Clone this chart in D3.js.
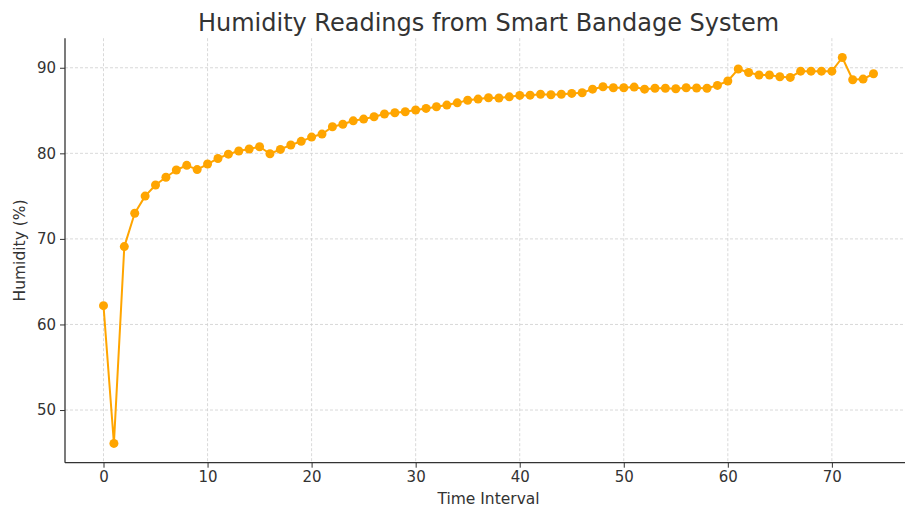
<!DOCTYPE html>
<html>
<head>
<meta charset="utf-8">
<script src="https://cdn.jsdelivr.net/npm/d3@7/dist/d3.min.js"></script>
<style>
  html, body { margin: 0; padding: 0; background: #fff; }
  svg { display: block; font-family: "DejaVu Sans", sans-serif; }
</style>
</head>
<body>
<svg id="chart" width="905" height="510"></svg>
<script>
// Humidity readings per time interval (0..74)
const timeIntervals = d3.range(0, 75);
const humidity = [
  62.2, 46.1, 69.1, 73.0, 75.0, 76.3, 77.2, 78.05, 78.6, 78.1,
  78.75, 79.4, 79.9, 80.27, 80.5, 80.77, 79.95, 80.46, 80.97, 81.4,
  81.9, 82.25, 83.1, 83.4, 83.8, 84.0, 84.27, 84.6, 84.74, 84.86,
  85.06, 85.25, 85.44, 85.64, 85.9, 86.2, 86.34, 86.5, 86.46, 86.6,
  86.77, 86.8, 86.9, 86.85, 86.9, 87.0, 87.08, 87.5, 87.78, 87.66,
  87.66, 87.74, 87.5, 87.6, 87.6, 87.55, 87.66, 87.63, 87.6, 87.94,
  88.45, 89.85, 89.44, 89.15, 89.15, 88.95, 88.87, 89.6, 89.6, 89.6,
  89.6, 91.2, 88.6, 88.68, 89.3
];
const xTicks = [0, 10, 20, 30, 40, 50, 60, 70];
const yTicks = [50, 60, 70, 80, 90];

const titleText = "Humidity Readings from Smart Bandage System";
const xLabel = "Time Interval";
const yLabel = "Humidity (%)";

const svg = d3.select("#chart");
const plotLeft = 65, plotRight = 912, plotTop = 38.2, plotBottom = 462.7;

// 5% padding around the data on both axes
const xExt = d3.extent(timeIntervals), yExt = d3.extent(humidity);
const xPad = (xExt[1] - xExt[0]) * 0.05, yPad = (yExt[1] - yExt[0]) * 0.05;
const x = d3.scaleLinear().domain([xExt[0] - xPad, xExt[1] + xPad]).range([plotLeft, plotRight]);
const y = d3.scaleLinear().domain([yExt[0] - yPad, yExt[1] + yPad]).range([plotBottom, plotTop]);

const textColor = "#333";
const axisColor = "#333";

// grid
const grid = svg.append("g");
grid.selectAll("line.gx").data(xTicks).join("line")
  .attr("x1", d => x(d)).attr("x2", d => x(d))
  .attr("y1", plotTop).attr("y2", plotBottom)
  .attr("stroke", "#cfcfcf").attr("stroke-width", 0.8).attr("stroke-dasharray", "3,2");
grid.selectAll("line.gy").data(yTicks).join("line")
  .attr("x1", plotLeft).attr("x2", plotRight)
  .attr("y1", d => y(d)).attr("y2", d => y(d))
  .attr("stroke", "#cfcfcf").attr("stroke-width", 0.8).attr("stroke-dasharray", "3,2");

// axes
const xAxis = svg.append("g").attr("transform", `translate(0,${plotBottom})`)
  .call(d3.axisBottom(x).tickValues(xTicks).tickSize(5).tickPadding(4).tickFormat(d3.format("d")));
const yAxis = svg.append("g").attr("transform", `translate(${plotLeft},0)`)
  .call(d3.axisLeft(y).tickValues(yTicks).tickSize(5).tickPadding(4).tickFormat(d3.format("d")));
[xAxis, yAxis].forEach(g => {
  g.select(".domain").attr("stroke", axisColor).attr("stroke-width", 1.3);
  g.selectAll(".tick line").attr("stroke", axisColor).attr("stroke-width", 1);
  g.selectAll(".tick text").attr("fill", textColor)
    .style("font-family", "DejaVu Sans").style("font-size", "15px");
});
// plain spines without end caps
yAxis.select(".domain").attr("d", `M0,${plotBottom}V${plotTop}`);
xAxis.select(".domain").attr("d", `M${plotLeft},0H${plotRight}`);

// series
const line = d3.line().x((d, i) => x(timeIntervals[i])).y(d => y(d));
svg.append("path").datum(humidity)
  .attr("d", line).attr("fill", "none")
  .attr("stroke", "#FFA500").attr("stroke-width", 2).attr("stroke-linejoin", "round");
svg.append("g").selectAll("circle").data(humidity).join("circle")
  .attr("cx", (d, i) => x(timeIntervals[i])).attr("cy", d => y(d))
  .attr("r", 4.5).attr("fill", "#FFA500");

// title and labels
svg.append("text").attr("x", (plotLeft + plotRight) / 2).attr("y", 31)
  .attr("text-anchor", "middle").attr("fill", textColor)
  .style("font-size", "24px").text(titleText);
svg.append("text").attr("x", (plotLeft + plotRight) / 2).attr("y", 504)
  .attr("text-anchor", "middle").attr("fill", textColor)
  .style("font-size", "15.5px").text(xLabel);
svg.append("text").attr("transform", `translate(25,${(plotTop + plotBottom) / 2}) rotate(-90)`)
  .attr("text-anchor", "middle").attr("fill", textColor)
  .style("font-size", "15.5px").text(yLabel);
</script>
</body>
</html>
